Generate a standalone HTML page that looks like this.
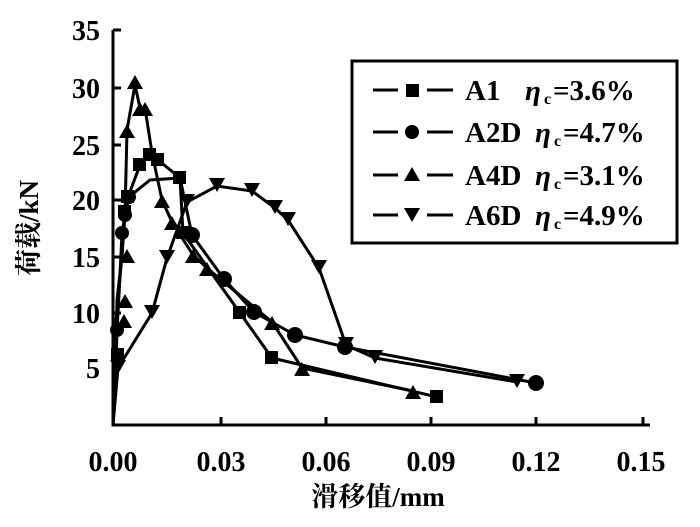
<!DOCTYPE html>
<html><head><meta charset="utf-8"><style>body{margin:0;background:#fff}svg{display:block}</style></head><body>
<svg width="700" height="527" viewBox="0 0 700 527" xmlns="http://www.w3.org/2000/svg" font-family="Liberation Serif, serif" font-weight="bold">
<rect width="700" height="527" fill="#fff"/>
<g stroke="#000" stroke-width="3" fill="none">
<path d="M113 30 V425 H650"/>
<path d="M113 30h8M113 88h8M113 145h8M113 200h8M113 257h8M113 313h8M113 368h8"/>
<path d="M221 425v-8M326 425v-8M431 425v-8M536 425v-8M643 425v-8"/>
</g>
<g font-size="28" text-anchor="end">
<text x="100" y="40">35</text><text x="100" y="98">30</text><text x="100" y="155">25</text><text x="100" y="210">20</text><text x="100" y="267">15</text><text x="100" y="323">10</text><text x="100" y="378">5</text>
</g>
<g font-size="28" text-anchor="middle">
<text x="113" y="471">0.00</text><text x="221" y="471">0.03</text><text x="326" y="471">0.06</text><text x="431" y="471">0.09</text><text x="536" y="471">0.12</text><text x="641" y="471">0.15</text>
</g>
<text x="378" y="506" font-size="27" text-anchor="middle" font-family="Liberation Serif, Noto Serif CJK SC, serif">滑移值/mm</text>
<text transform="translate(38,228) rotate(-90)" font-size="27" text-anchor="middle" font-family="Liberation Serif, Noto Serif CJK SC, serif">荷载/kN</text>
<g stroke="#000" stroke-width="3" fill="none">
<polyline points="113,425 118,368 152,313 167,258 187,202 217,186 252,191 275,208 288,220 319,268 346,345 375,358 517,382"/>
<polyline points="113,425 116,370 117,330 119,295 122,233 125,215 129,197 150,180 180,178 192,235 224,279 254,312 295,335 345,347 536,383"/>
<polyline points="113,425 116,355 117,300 122,255 125,212 128,197 140,165 150,155 158,160 180,178 183,233 240,313 272,358 437,397"/>
<polyline points="113,425 116,320 118,300 122,255 125,215 127,130 135,85 140,108 145,108 152,153 162,200 172,222 193,255 207,268 272,322 302,368 413,391"/>
</g>
<g fill="#000">
<path d="M110,360h16l-8,14zM144,305h16l-8,14zM159,250h16l-8,14zM179,194h16l-8,14zM209,178h16l-8,14zM244,183h16l-8,14zM267,200h16l-8,14zM280,212h16l-8,14zM311,260h16l-8,14zM338,337h16l-8,14zM367,350h16l-8,14zM509,374h16l-8,14z"/>
<path d="M116,328h16l-8,-14zM117,308h16l-8,-14zM119,263h16l-8,-14zM127,89h16l-8,-14zM132,116h16l-8,-14zM137,116h16l-8,-14zM144,161h16l-8,-14zM154,208h16l-8,-14zM164,230h16l-8,-14zM185,263h16l-8,-14zM199,276h16l-8,-14zM264,330h16l-8,-14zM294,376h16l-8,-14zM405,399h16l-8,-14zM119,138h16l-8,-14z"/>
<circle cx="117" cy="330" r="7"/><circle cx="122" cy="233" r="7"/><circle cx="125" cy="215" r="7"/><circle cx="129" cy="197" r="7"/><circle cx="192" cy="235" r="8"/><circle cx="224" cy="279" r="8"/><circle cx="254" cy="312" r="8"/><circle cx="295" cy="335" r="8"/><circle cx="345" cy="347" r="8"/><circle cx="536" cy="383" r="8"/>
<rect x="111" y="348" width="13" height="13"/><rect x="118" y="205" width="13" height="13"/><rect x="121" y="190" width="13" height="13"/><rect x="133" y="158" width="13" height="13"/><rect x="143" y="148" width="13" height="13"/><rect x="151" y="153" width="13" height="13"/><rect x="173" y="171" width="13" height="13"/><rect x="176" y="226" width="13" height="13"/><rect x="233" y="306" width="13" height="13"/><rect x="265" y="351" width="13" height="13"/><rect x="430" y="390" width="13" height="13"/>
</g>
<rect x="352" y="61" width="325" height="182" fill="#fff" stroke="#000" stroke-width="3"/>
<g stroke="#000" stroke-width="3"><path d="M373 90h25M427 90h26M373 132h25M427 132h26M373 175h25M427 175h26M373 215h25M427 215h26"/></g>
<g fill="#000">
<rect x="406" y="84" width="13" height="13"/>
<circle cx="412" cy="132" r="7"/>
<path d="M404,181h16l-8,-14z"/>
<path d="M404,208h16l-8,14z"/>
</g>
<g font-size="29">
<text x="465" y="100">A1</text><text x="525" y="100" font-style="italic">η</text><text x="544" y="104" font-size="16">c</text><text x="553" y="100">=3.6%</text>
<text x="465" y="142">A2D</text><text x="535" y="142" font-style="italic">η</text><text x="554" y="146" font-size="16">c</text><text x="563" y="142">=4.7%</text>
<text x="465" y="185">A4D</text><text x="535" y="185" font-style="italic">η</text><text x="554" y="189" font-size="16">c</text><text x="563" y="185">=3.1%</text>
<text x="465" y="225">A6D</text><text x="535" y="225" font-style="italic">η</text><text x="554" y="229" font-size="16">c</text><text x="563" y="225">=4.9%</text>
</g>
</svg>
</body></html>
